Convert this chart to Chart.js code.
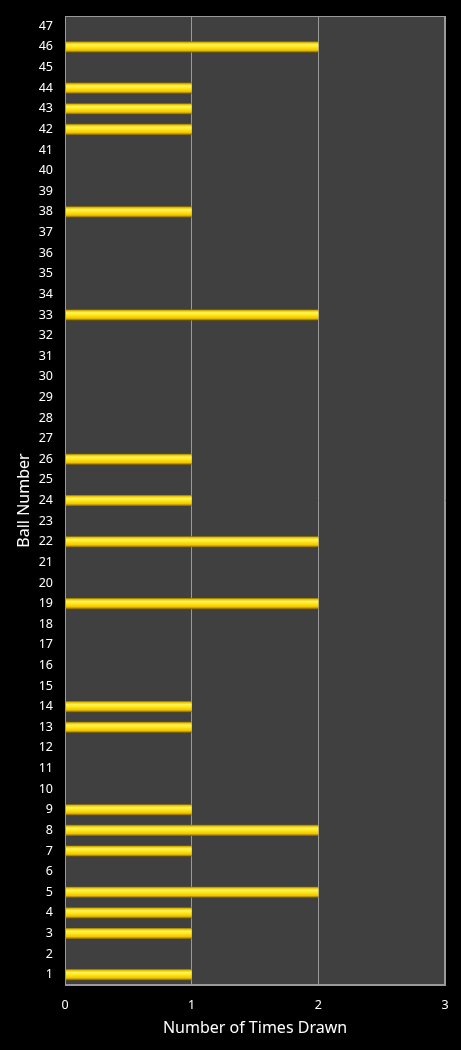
<!DOCTYPE html>
<html><head><meta charset="utf-8">
<script src="https://cdn.jsdelivr.net/npm/chart.js@4"></script>
<style>html,body{margin:0;padding:0;background:#000;}#wrap{width:461px;height:1050px;}</style>
</head><body><div id="wrap"><canvas id="c"></canvas></div>
<script>
const ballNumbers = [];
for (let i = 1; i <= 47; i++) ballNumbers.push(String(i));
const timesDrawn = [1,0,1,1,2,0,1,2,1,0,0,0,1,1,0,0,0,0,2,0,0,2,0,1,0,1,0,0,0,0,0,0,2,0,0,0,0,1,0,0,0,1,1,1,0,2,0];
const xTicks = [0,1,2,3];

const plotBg = {
  id:'plotBg',
  beforeDraw(chart){
    const {ctx, chartArea:a} = chart;
    ctx.save(); ctx.fillStyle='#000'; ctx.fillRect(0,0,chart.width,chart.height);
    ctx.fillStyle='#404040'; ctx.fillRect(a.left,a.top,a.right-a.left,a.bottom-a.top); ctx.restore();
  }
};

function barFill(c){
  const chart = c.chart;
  if (!chart.chartArea || c.dataIndex === undefined) return '#ffd700';
  const y = chart.scales.y.getPixelForValue(c.dataIndex);
  const h = 11;
  const g = chart.ctx.createLinearGradient(0, y - h/2, 0, y + h/2);
  g.addColorStop(0, '#8a6c00');
  g.addColorStop(0.12, '#e8c400');
  g.addColorStop(0.3, '#fff35a');
  g.addColorStop(0.5, '#ffe81a');
  g.addColorStop(0.8, '#f0c400');
  g.addColorStop(1, '#7a5c00');
  return g;
}

new Chart(document.getElementById('c'), {
  type:'bar',
  data:{labels: ballNumbers, datasets:[{data: timesDrawn, backgroundColor: barFill, borderWidth:0, categoryPercentage:1, barPercentage:0.54}]},
  options:{
    indexAxis:'y', responsive:true, maintainAspectRatio:false, animation:false,
    layout:{padding:{left:0,right:16,top:16,bottom:0}},
    plugins:{legend:{display:false}, tooltip:{enabled:false}},
    scales:{
      x:{min:0,max:3,
        afterBuildTicks(s){ s.ticks = xTicks.map(v=>({value:v})); },
        afterFit(s){ s.height = 65; s.paddingLeft = 0; s.paddingRight = 0; },
        grid:{color:'#9a9a9a', lineWidth:1, drawTicks:false},
        border:{display:true,color:'#9a9a9a'},
        ticks:{color:'#ffffff', padding:13, font:{family:'Noto Sans', size:12.5}},
        title:{display:true, text:'Number of Times Drawn', color:'#ffffff', font:{family:'Noto Sans', size:16}, padding:{top:4,bottom:12}}
      },
      y:{reverse:true,
        afterFit(s){ s.width = 65; s.paddingTop = 0; s.paddingBottom = 0; },
        grid:{display:false, drawTicks:false},
        border:{display:true,color:'#9a9a9a'},
        ticks:{color:'#ffffff', padding:12, autoSkip:false, font:{family:'Noto Sans', size:12.5}},
        title:{display:true, text:'Ball Number', color:'#ffffff', font:{family:'Noto Sans', size:16}, padding:{top:15,bottom:0}}
      }
    }
  },
  plugins:[plotBg, {
    id:'frame',
    afterDraw(chart){
      const {ctx, chartArea:a} = chart;
      ctx.save(); ctx.strokeStyle='#9a9a9a'; ctx.lineWidth=1;
      ctx.strokeRect(Math.round(a.left)+0.5, Math.round(a.top)+0.5, Math.round(a.right-a.left)-1, Math.round(a.bottom-a.top)-1);
      ctx.restore();
    }
  }]
});
</script></body></html>
